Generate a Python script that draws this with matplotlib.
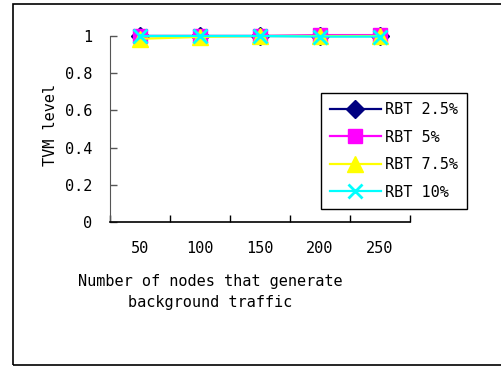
import numpy as np
import matplotlib
matplotlib.use("Agg")
from matplotlib import pyplot as plt
from matplotlib.patches import Rectangle
from matplotlib.ticker import FixedLocator, FuncFormatter

plt.rcParams['font.family'] = ['DejaVu Sans Mono']
plt.rcParams['font.size'] = 11

nodes = ['50', '100', '150', '200', '250']
yticks = [0, 0.2, 0.4, 0.6, 0.8, 1]
rbt_25 = [1.0, 1.0, 1.0, 1.0, 1.0]
rbt_5 = [1.0, 1.0, 1.0, 1.005, 1.005]
rbt_75 = [0.985, 0.995, 1.0, 1.0, 1.0]
rbt_10 = [1.0, 1.0, 1.0, 0.997, 0.997]

series = [
    (rbt_25, 'RBT 2.5%', '#000080', 'D', 9),
    (rbt_5, 'RBT 5%', '#ff00ff', 's', 10),
    (rbt_75, 'RBT 7.5%', '#ffff00', '^', 11),
    (rbt_10, 'RBT 10%', '#00ffff', 'x', 10),
]

fig = plt.figure(figsize=(5.01, 3.67), dpi=100)
ax = fig.add_axes([110 / 501, 1 - 222 / 367, 300 / 501, 186 / 367])

x = np.arange(len(nodes))
for vals, lab, col, mk, ms in series:
    ax.plot(x, vals, color=col, lw=1.6, marker=mk, ms=ms, mew=2 if mk == 'x' else 1,
            mec=col, mfc=col, label=lab, clip_on=False)

ax.set_xlim(-0.5, len(nodes) - 0.5)
ax.set_ylim(0, 1)
ax.set_xticks(x)
ax.set_xticklabels(nodes)
ax.xaxis.set_minor_locator(FixedLocator(np.arange(-0.5, len(nodes), 1.0)))
ax.tick_params(axis='x', which='major', length=0, pad=14)
ax.tick_params(axis='x', which='minor', direction='in', length=5, width=1, color='black')
ax.set_yticks(yticks)
ax.yaxis.set_major_formatter(FuncFormatter(lambda v, p: '%g' % v))
ax.tick_params(axis='y', direction='in', length=5, width=1, color='#555555', pad=13)

for s in ['top', 'right']:
    ax.spines[s].set_visible(False)
ax.spines['left'].set_color('#555555')
ax.spines['bottom'].set_color('black')
ax.spines['bottom'].set_linewidth(1.2)

ax.set_xlabel('Number of nodes that generate\nbackground traffic', linespacing=1.5)
ax.xaxis.set_label_coords(100 / 300, -52 / 186)
ax.set_ylabel('TVM level')
ax.yaxis.set_label_coords(-52 / 300, 97 / 186)

leg = ax.legend(loc='upper left', bbox_to_anchor=(321 / 501, 1 - 93 / 367),
                bbox_transform=fig.transFigure, borderaxespad=0, fancybox=False,
                framealpha=1, edgecolor='black', handlelength=3.3, handletextpad=0.3,
                labelspacing=0.82, borderpad=0.6)
leg.get_frame().set_linewidth(1)

fig.patches.append(Rectangle((13 / 501, 1 - 365 / 367), 1, 361 / 367,
                             transform=fig.transFigure, fill=False,
                             edgecolor='black', lw=1.2))

fig.savefig('out.png', dpi=100)
